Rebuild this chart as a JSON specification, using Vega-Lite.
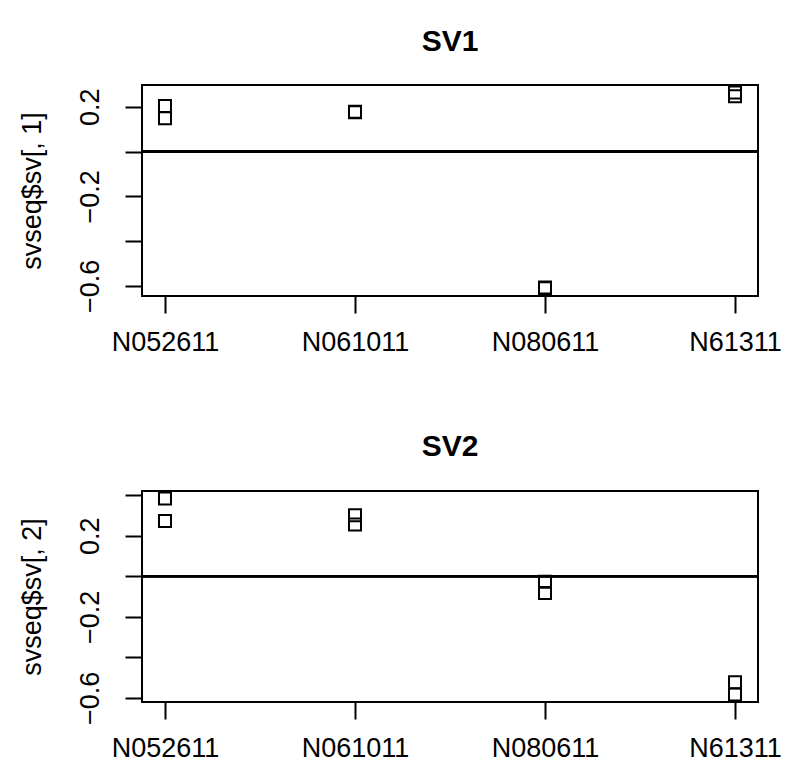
{
  "$schema": "https://vega.github.io/schema/vega-lite/v6.json",
  "padding": {"left": 16, "top": 25, "right": 10, "bottom": 10},
  "background": "white",
  "data": {"values": [
    {"sv": "SV1", "batch": "N052611", "value": 0.203},
    {"sv": "SV1", "batch": "N052611", "value": 0.148},
    {"sv": "SV1", "batch": "N061011", "value": 0.178},
    {"sv": "SV1", "batch": "N061011", "value": 0.175},
    {"sv": "SV1", "batch": "N080611", "value": -0.607},
    {"sv": "SV1", "batch": "N080611", "value": -0.610},
    {"sv": "SV1", "batch": "N61311", "value": 0.263},
    {"sv": "SV1", "batch": "N61311", "value": 0.247},
    {"sv": "SV2", "batch": "N052611", "value": 0.384},
    {"sv": "SV2", "batch": "N052611", "value": 0.273},
    {"sv": "SV2", "batch": "N061011", "value": 0.301},
    {"sv": "SV2", "batch": "N061011", "value": 0.256},
    {"sv": "SV2", "batch": "N080611", "value": -0.027},
    {"sv": "SV2", "batch": "N080611", "value": -0.082},
    {"sv": "SV2", "batch": "N61311", "value": -0.523},
    {"sv": "SV2", "batch": "N61311", "value": -0.583}
  ]},
  "spacing": 195,
  "bounds": "flush",
  "config": {
    "view": {"stroke": "black", "strokeWidth": 2},
    "font": "Liberation Sans",
    "axis": {
      "grid": false, "domain": false,
      "tickColor": "black", "tickWidth": 2, "tickSize": 17,
      "labelColor": "black", "labelFont": "Liberation Sans", "labelFontSize": 27,
      "titleColor": "black", "titleFont": "Liberation Sans", "titleFontSize": 27, "titleFontWeight": "normal"
    },
    "title": {"font": "Liberation Sans", "fontSize": 30, "fontWeight": "bold", "color": "black", "anchor": "middle", "baseline": "alphabetic", "offset": 26}
  },
  "vconcat": [
    {
      "title": "SV1",
      "width": 616, "height": 211,
      "transform": [{"filter": "datum.sv == 'SV1'"}],
      "layer": [
        {
          "mark": {"type": "rule", "color": "black", "strokeWidth": 2},
          "encoding": {"y": {"datum": 0, "type": "quantitative"}}
        },
        {
          "mark": {"type": "point", "shape": "square", "filled": false, "stroke": "black", "strokeWidth": 2, "size": 144, "opacity": 1},
          "encoding": {
            "x": {"field": "batch", "type": "ordinal", "sort": ["N052611", "N061011", "N080611", "N61311"],
                  "scale": {"type": "point", "padding": 0.121},
                  "axis": {"title": null, "labelAngle": 0, "labelPadding": 16, "labelBaseline": "top"}},
            "y": {"field": "value", "type": "quantitative",
                  "scale": {"domain": [-0.645, 0.297], "nice": false, "zero": false},
                  "axis": {"title": "svseq$sv[, 1]", "values": [-0.6, -0.4, -0.2, 0, 0.2],
                           "labelExpr": "abs(datum.value) < 0.01 || abs(abs(datum.value) - 0.4) < 0.01 ? '' : format(datum.value, '.1f')",
                           "labelAngle": -90, "labelAlign": "center", "labelBaseline": "bottom", "labelPadding": 21,
                           "titlePadding": 30}}
          }
        }
      ]
    },
    {
      "title": "SV2",
      "width": 616, "height": 211,
      "transform": [{"filter": "datum.sv == 'SV2'"}],
      "layer": [
        {
          "mark": {"type": "rule", "color": "black", "strokeWidth": 2},
          "encoding": {"y": {"datum": 0, "type": "quantitative"}}
        },
        {
          "mark": {"type": "point", "shape": "square", "filled": false, "stroke": "black", "strokeWidth": 2, "size": 144, "opacity": 1},
          "encoding": {
            "x": {"field": "batch", "type": "ordinal", "sort": ["N052611", "N061011", "N080611", "N61311"],
                  "scale": {"type": "point", "padding": 0.121},
                  "axis": {"title": null, "labelAngle": 0, "labelPadding": 16, "labelBaseline": "top"}},
            "y": {"field": "value", "type": "quantitative",
                  "scale": {"domain": [-0.62, 0.421], "nice": false, "zero": false},
                  "axis": {"title": "svseq$sv[, 2]", "values": [-0.6, -0.4, -0.2, 0, 0.2, 0.4],
                           "labelExpr": "abs(datum.value) < 0.01 || abs(abs(datum.value) - 0.4) < 0.01 ? '' : format(datum.value, '.1f')",
                           "labelAngle": -90, "labelAlign": "center", "labelBaseline": "bottom", "labelPadding": 21,
                           "titlePadding": 30}}
          }
        }
      ]
    }
  ]
}
